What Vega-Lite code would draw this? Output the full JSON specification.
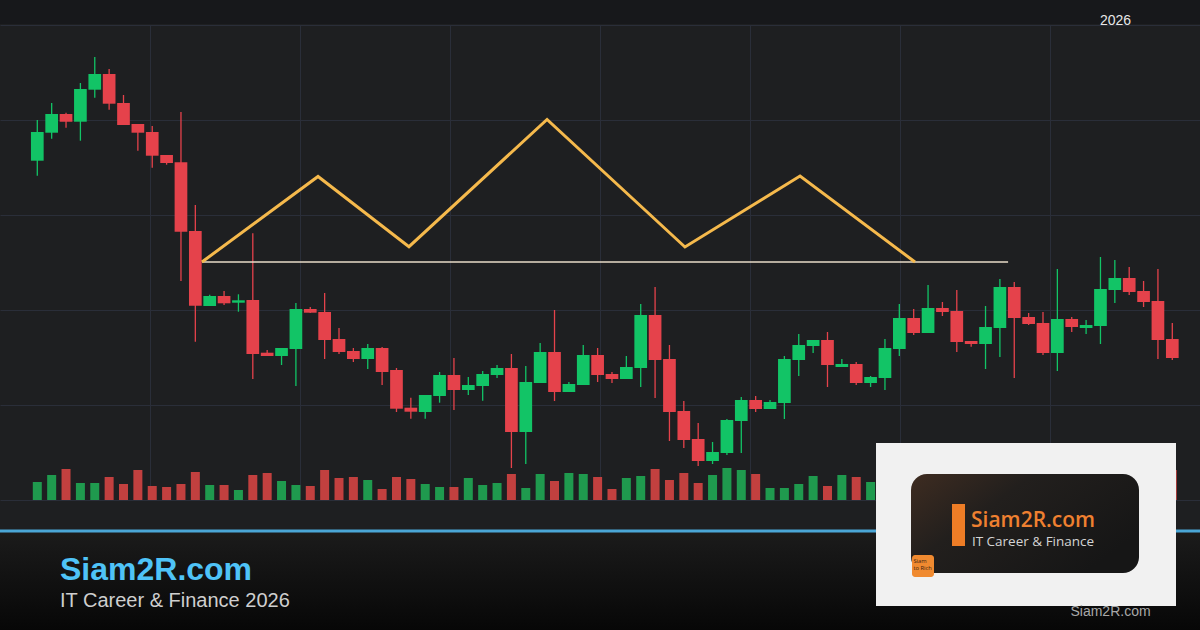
{
  "$schema": "https://vega.github.io/schema/vega-lite/v6.json",
  "width": 1200,
  "height": 475,
  "autosize": {"type": "none"},
  "padding": {"left": 0, "right": 0, "top": 25, "bottom": 130},
  "background": "#1e1f21",
  "config": {
    "view": {"stroke": null},
    "scale": {"continuousPadding": 0},
    "axis": {"grid": true, "labels": false, "ticks": false, "domain": false, "title": null, "gridColor": "#2a2e39", "gridWidth": 1, "gridOpacity": 1}
  },
  "datasets": {
    "candles": [
      {"i":0,"o":133.93,"h":138.0,"l":132.43,"c":136.8,"v":1800},
      {"i":1,"o":136.73,"h":139.7,"l":136.13,"c":138.6,"v":2500},
      {"i":2,"o":138.6,"h":138.73,"l":137.23,"c":137.83,"v":3100},
      {"i":3,"o":137.83,"h":141.7,"l":135.93,"c":141.1,"v":1700},
      {"i":4,"o":141.03,"h":144.3,"l":140.23,"c":142.6,"v":1700},
      {"i":5,"o":142.6,"h":143.1,"l":139.03,"c":139.63,"v":2300},
      {"i":6,"o":139.7,"h":140.5,"l":137.5,"c":137.5,"v":1600},
      {"i":7,"o":137.6,"h":137.6,"l":134.93,"c":136.73,"v":3000},
      {"i":8,"o":136.8,"h":137.4,"l":133.23,"c":134.43,"v":1400},
      {"i":9,"o":134.5,"h":134.5,"l":133.53,"c":133.7,"v":1300},
      {"i":10,"o":133.77,"h":138.8,"l":121.9,"c":126.83,"v":1600},
      {"i":11,"o":126.9,"h":129.5,"l":115.83,"c":119.43,"v":2800},
      {"i":12,"o":119.4,"h":120.53,"l":119.4,"c":120.4,"v":1500},
      {"i":13,"o":120.4,"h":120.9,"l":119.5,"c":119.67,"v":1500},
      {"i":14,"o":119.73,"h":120.57,"l":118.83,"c":119.97,"v":1000},
      {"i":15,"o":120.0,"h":126.67,"l":112.1,"c":114.6,"v":2500},
      {"i":16,"o":114.73,"h":115.0,"l":114.4,"c":114.4,"v":2700},
      {"i":17,"o":114.4,"h":115.2,"l":113.5,"c":115.2,"v":1900},
      {"i":18,"o":115.1,"h":119.7,"l":111.4,"c":119.1,"v":1500},
      {"i":19,"o":119.1,"h":119.3,"l":118.7,"c":118.73,"v":1400},
      {"i":20,"o":118.8,"h":120.7,"l":114.1,"c":116.0,"v":3000},
      {"i":21,"o":116.1,"h":117.2,"l":114.6,"c":114.8,"v":2200},
      {"i":22,"o":114.9,"h":115.2,"l":113.8,"c":114.1,"v":2300},
      {"i":23,"o":114.1,"h":115.6,"l":113.1,"c":115.2,"v":2000},
      {"i":24,"o":115.2,"h":115.3,"l":111.5,"c":112.8,"v":1100},
      {"i":25,"o":113.0,"h":113.2,"l":108.8,"c":109.13,"v":2300},
      {"i":26,"o":109.23,"h":110.23,"l":108.13,"c":108.83,"v":2100},
      {"i":27,"o":108.8,"h":110.5,"l":108.13,"c":110.5,"v":1600},
      {"i":28,"o":110.4,"h":112.8,"l":109.73,"c":112.5,"v":1300},
      {"i":29,"o":112.5,"h":114.2,"l":109.0,"c":111.0,"v":1300},
      {"i":30,"o":111.0,"h":112.3,"l":110.5,"c":111.5,"v":2200},
      {"i":31,"o":111.4,"h":112.9,"l":109.93,"c":112.6,"v":1500},
      {"i":32,"o":112.5,"h":113.5,"l":112.2,"c":113.2,"v":1700},
      {"i":33,"o":113.2,"h":114.6,"l":103.2,"c":106.8,"v":2600},
      {"i":34,"o":106.8,"h":113.4,"l":103.6,"c":111.8,"v":1200},
      {"i":35,"o":111.7,"h":115.7,"l":111.7,"c":114.8,"v":2600},
      {"i":36,"o":114.8,"h":119.0,"l":109.9,"c":110.8,"v":1900},
      {"i":37,"o":110.8,"h":111.8,"l":110.8,"c":111.6,"v":2700},
      {"i":38,"o":111.5,"h":115.5,"l":111.5,"c":114.5,"v":2600},
      {"i":39,"o":114.5,"h":115.2,"l":111.8,"c":112.5,"v":2300},
      {"i":40,"o":112.6,"h":112.8,"l":111.7,"c":112.1,"v":1100},
      {"i":41,"o":112.1,"h":114.4,"l":112.1,"c":113.3,"v":2200},
      {"i":42,"o":113.2,"h":119.6,"l":111.3,"c":118.5,"v":2400},
      {"i":43,"o":118.5,"h":121.3,"l":110.2,"c":114.0,"v":3100},
      {"i":44,"o":114.1,"h":115.5,"l":105.9,"c":108.8,"v":2000},
      {"i":45,"o":108.9,"h":109.9,"l":105.2,"c":106.0,"v":2700},
      {"i":46,"o":106.1,"h":107.7,"l":103.4,"c":103.9,"v":1700},
      {"i":47,"o":103.9,"h":105.8,"l":103.6,"c":104.8,"v":2500},
      {"i":48,"o":104.7,"h":108.1,"l":104.5,"c":108.0,"v":3200},
      {"i":49,"o":107.9,"h":110.3,"l":104.7,"c":110.0,"v":3000},
      {"i":50,"o":110.0,"h":110.4,"l":108.8,"c":109.1,"v":2600},
      {"i":51,"o":109.1,"h":110.0,"l":109.1,"c":109.8,"v":1200},
      {"i":52,"o":109.7,"h":114.4,"l":108.1,"c":114.1,"v":1200},
      {"i":53,"o":114.0,"h":116.6,"l":112.4,"c":115.5,"v":1600},
      {"i":54,"o":115.4,"h":116.0,"l":114.7,"c":116.0,"v":2400},
      {"i":55,"o":116.0,"h":116.8,"l":111.3,"c":113.5,"v":1400},
      {"i":56,"o":113.3,"h":114.1,"l":113.3,"c":113.6,"v":2500},
      {"i":57,"o":113.6,"h":113.8,"l":111.5,"c":111.7,"v":2300},
      {"i":58,"o":111.7,"h":112.4,"l":111.3,"c":112.3,"v":1800},
      {"i":59,"o":112.2,"h":116.1,"l":111.0,"c":115.2,"v":2000},
      {"i":60,"o":115.1,"h":119.6,"l":114.4,"c":118.2,"v":2600},
      {"i":61,"o":118.2,"h":119.1,"l":116.5,"c":116.7,"v":1500},
      {"i":62,"o":116.7,"h":121.5,"l":116.7,"c":119.2,"v":2200},
      {"i":63,"o":119.2,"h":119.8,"l":118.4,"c":118.8,"v":1300},
      {"i":64,"o":118.9,"h":121.0,"l":114.8,"c":115.8,"v":2400},
      {"i":65,"o":115.9,"h":115.9,"l":115.33,"c":115.6,"v":1200},
      {"i":66,"o":115.6,"h":119.4,"l":113.1,"c":117.3,"v":1900},
      {"i":67,"o":117.2,"h":122.1,"l":114.3,"c":121.3,"v":2800},
      {"i":68,"o":121.3,"h":121.8,"l":112.2,"c":118.2,"v":2500},
      {"i":69,"o":118.3,"h":118.7,"l":117.5,"c":117.6,"v":1400},
      {"i":70,"o":117.7,"h":118.8,"l":114.5,"c":114.7,"v":2100},
      {"i":71,"o":114.7,"h":123.1,"l":112.9,"c":118.1,"v":1800},
      {"i":72,"o":118.1,"h":118.3,"l":116.8,"c":117.3,"v":2900},
      {"i":73,"o":117.2,"h":118.0,"l":116.6,"c":117.5,"v":1300},
      {"i":74,"o":117.4,"h":124.3,"l":115.6,"c":121.1,"v":2700},
      {"i":75,"o":121.0,"h":124.0,"l":119.7,"c":122.2,"v":2200},
      {"i":76,"o":122.2,"h":123.3,"l":120.5,"c":120.8,"v":1600},
      {"i":77,"o":120.9,"h":121.9,"l":119.3,"c":119.8,"v":1700},
      {"i":78,"o":119.9,"h":123.1,"l":114.1,"c":116.0,"v":2500},
      {"i":79,"o":116.1,"h":117.7,"l":114.0,"c":114.2,"v":3000}
    ],
    "zigzag": [
      {"i":11.46,"p":123.8},
      {"i":19.54,"p":132.35},
      {"i":25.87,"p":125.33},
      {"i":35.48,"p":138.05},
      {"i":45.08,"p":125.3},
      {"i":53.09,"p":132.4},
      {"i":61.09,"p":123.8}
    ]
  },
  "layer": [
    {
      "layer": [
        {
          "data": {"name": "candles"},
          "mark": {"type": "rule", "strokeWidth": 1.3},
          "encoding": {
            "x": {"field": "i", "type": "quantitative", "scale": {"domain": [-2.596, 80.928], "nice": false, "zero": false, "padding": 0},
                  "axis": {"values": [7.845, 18.285, 28.726, 39.166, 49.607, 60.048, 70.488], "orient": "bottom"}},
            "y": {"field": "l", "type": "quantitative", "scale": {"domain": [100, 147.5], "nice": false, "zero": false, "padding": 0},
                  "axis": {"values": [100, 109.5, 119, 128.5, 138, 147.5], "orient": "left"}},
            "y2": {"field": "h"},
            "color": {"condition": {"test": "datum.c >= datum.o", "value": "#12c466"}, "value": "#e5424b"}
          }
        },
        {
          "data": {"values": [{}]},
          "mark": {"type": "rect", "fill": "#17181b"},
          "encoding": {
            "x": {"datum": -2.596, "type": "quantitative"},
            "x2": {"datum": 80.928},
            "y": {"datum": 150, "type": "quantitative"},
            "y2": {"datum": 147.6}
          }
        },
        {
          "data": {"values": [{}]},
          "mark": {"type": "rect", "fill": {"gradient": "linear", "x1": 0, "y1": 0, "x2": 0, "y2": 1, "stops": [{"offset": 0, "color": "#1b1b1b"}, {"offset": 1, "color": "#070707"}]}},
          "encoding": {
            "x": {"datum": -2.596, "type": "quantitative"},
            "x2": {"datum": 80.928},
            "y": {"datum": 96.75, "type": "quantitative"},
            "y2": {"datum": 87}
          }
        },
        {
          "data": {"values": [{}]},
          "mark": {"type": "rule", "color": "#4aa6d6", "strokeWidth": 3},
          "encoding": {
            "x": {"datum": -2.596, "type": "quantitative"},
            "x2": {"datum": 80.928},
            "y": {"datum": 96.9, "type": "quantitative"}
          }
        },
        {
          "data": {"name": "candles"},
          "mark": {"type": "bar", "width": 12.7},
          "encoding": {
            "x": {"field": "i", "type": "quantitative"},
            "y": {"field": "o", "type": "quantitative"},
            "y2": {"field": "c"},
            "color": {"condition": {"test": "datum.c >= datum.o", "value": "#12c466"}, "value": "#e5424b"}
          }
        },
        {
          "data": {"values": [{}]},
          "mark": {"type": "rule", "color": "#e8dcc8", "strokeWidth": 1.5},
          "encoding": {
            "x": {"datum": 11.46, "type": "quantitative"},
            "x2": {"datum": 67.57},
            "y": {"datum": 123.8, "type": "quantitative"}
          }
        },
        {
          "data": {"name": "zigzag"},
          "mark": {"type": "line", "color": "#f5b94c", "strokeWidth": 3, "strokeJoin": "miter"},
          "encoding": {
            "x": {"field": "i", "type": "quantitative"},
            "y": {"field": "p", "type": "quantitative"}
          }
        },
        {
          "data": {"values": [{}]},
          "mark": {"type": "text", "font": "Liberation Sans", "fontWeight": "bold", "fontSize": 32, "color": "#4fc3f7", "align": "left", "baseline": "alphabetic"},
          "encoding": {
            "x": {"datum": 1.58, "type": "quantitative"},
            "y": {"datum": 92.0, "type": "quantitative"},
            "text": {"value": "Siam2R.com"}
          }
        },
        {
          "data": {"values": [{}]},
          "mark": {"type": "text", "font": "Liberation Sans", "fontSize": 20, "color": "#cfcfcf", "align": "left", "baseline": "alphabetic"},
          "encoding": {
            "x": {"datum": 1.58, "type": "quantitative"},
            "y": {"datum": 89.35, "type": "quantitative"},
            "text": {"value": "IT Career & Finance 2026"}
          }
        },
        {
          "data": {"values": [{}]},
          "mark": {"type": "text", "font": "Liberation Sans", "fontSize": 14, "color": "#e8e8e8", "align": "center", "baseline": "alphabetic"},
          "encoding": {
            "x": {"datum": 75.05, "type": "quantitative"},
            "y": {"datum": 147.55, "type": "quantitative"},
            "text": {"value": "2026"}
          }
        }
      ]
    },
    {
      "data": {"name": "candles"},
      "mark": {"type": "bar", "width": 9},
      "encoding": {
        "x": {"field": "i", "type": "quantitative"},
        "y": {"field": "v", "type": "quantitative", "stack": null, "scale": {"domain": [0, 47500], "nice": false, "padding": 0}, "axis": null},
        "color": {"condition": {"test": "datum.c >= datum.o", "value": "#1f9a4e"}, "value": "#c2403f"}
      }
    },
    {
      "layer": [
        {
          "data": {"values": [{}]},
          "mark": {"type": "rect", "fill": "#f1f1f1"},
          "encoding": {
            "x": {"datum": 58.377, "type": "quantitative"},
            "x2": {"datum": 79.258},
            "y": {"datum": 105.7, "type": "quantitative", "scale": {"domain": [100, 147.5], "nice": false, "zero": false, "padding": 0}, "axis": null},
            "y2": {"datum": 89.4}
          }
        },
        {
          "data": {"values": [{}]},
          "mark": {"type": "rect", "cornerRadius": 16, "fill": {"gradient": "linear", "x1": 0, "y1": 0, "x2": 1, "y2": 0.6, "stops": [{"offset": 0, "color": "#3e2c21"}, {"offset": 0.4, "color": "#221f1d"}, {"offset": 1, "color": "#161616"}]}},
          "encoding": {
            "x": {"datum": 60.813, "type": "quantitative"},
            "x2": {"datum": 76.683},
            "y": {"datum": 102.6, "type": "quantitative"},
            "y2": {"datum": 92.7}
          }
        },
        {
          "data": {"values": [{}]},
          "mark": {"type": "rect", "fill": "#ee7d26"},
          "encoding": {
            "x": {"datum": 63.667, "type": "quantitative"},
            "x2": {"datum": 64.572},
            "y": {"datum": 99.6, "type": "quantitative"},
            "y2": {"datum": 95.4}
          }
        },
        {
          "data": {"values": [{}]},
          "mark": {"type": "text", "font": "Open Sans", "fontWeight": 600, "fontSize": 21, "color": "#ef8030", "align": "left", "baseline": "alphabetic"},
          "encoding": {
            "x": {"datum": 64.99, "type": "quantitative"},
            "y": {"datum": 97.28, "type": "quantitative"},
            "text": {"value": "Siam2R.com"}
          }
        },
        {
          "data": {"values": [{}]},
          "mark": {"type": "text", "font": "Open Sans", "fontSize": 13.5, "color": "#d4d4d4", "align": "left", "baseline": "alphabetic"},
          "encoding": {
            "x": {"datum": 65.05, "type": "quantitative"},
            "y": {"datum": 95.45, "type": "quantitative"},
            "text": {"value": "IT Career & Finance"}
          }
        },
        {
          "data": {"values": [{}]},
          "mark": {"type": "rect", "fill": "#f08a30", "cornerRadius": 3},
          "encoding": {
            "x": {"datum": 60.883, "type": "quantitative"},
            "x2": {"datum": 62.414},
            "y": {"datum": 94.5, "type": "quantitative"},
            "y2": {"datum": 92.3}
          }
        },
        {
          "data": {"values": [{}]},
          "mark": {"type": "text", "font": "Open Sans", "fontSize": 5.8, "color": "#3b2412", "align": "left", "baseline": "alphabetic"},
          "encoding": {
            "x": {"datum": 60.98, "type": "quantitative"},
            "y": {"datum": 93.75, "type": "quantitative"},
            "text": {"value": "Siam"}
          }
        },
        {
          "data": {"values": [{}]},
          "mark": {"type": "text", "font": "Open Sans", "fontSize": 5.8, "color": "#3b2412", "align": "left", "baseline": "alphabetic"},
          "encoding": {
            "x": {"datum": 60.98, "type": "quantitative"},
            "y": {"datum": 93.05, "type": "quantitative"},
            "text": {"value": "to Rich"}
          }
        },
        {
          "data": {"values": [{}]},
          "mark": {"type": "text", "font": "Liberation Sans", "fontSize": 14, "color": "#a8a8a8", "align": "center", "baseline": "alphabetic"},
          "encoding": {
            "x": {"datum": 74.7, "type": "quantitative"},
            "y": {"datum": 88.45, "type": "quantitative"},
            "text": {"value": "Siam2R.com"}
          }
        }
      ]
    }
  ],
  "resolve": {"scale": {"y": "independent"}}
}
